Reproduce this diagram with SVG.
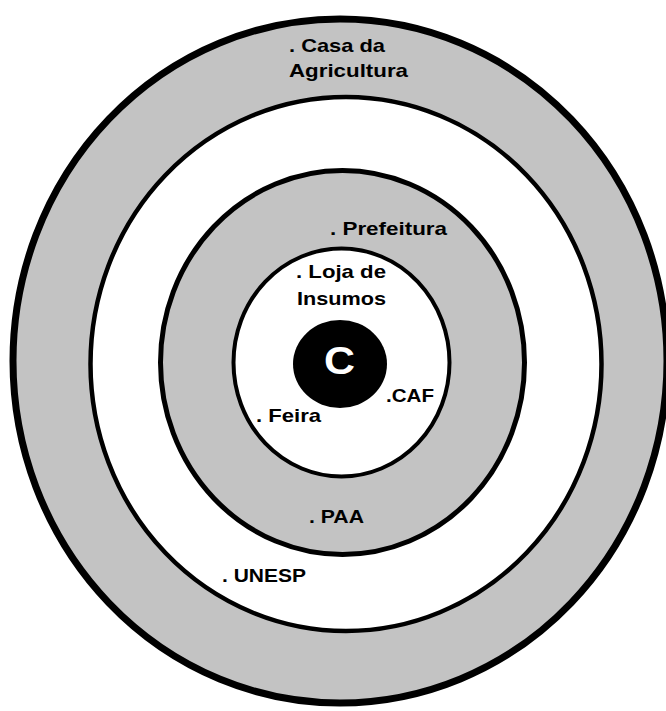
<svg xmlns="http://www.w3.org/2000/svg" width="666" height="711" viewBox="0 0 666 711">
<style>
.ring{stroke:#000}
.gray{fill:#c3c3c3}
.white{fill:#fff}
.lbl{font-family:"Liberation Sans",Arial,sans-serif;font-weight:bold;font-size:19px;fill:#000}
.core{font-family:"Liberation Sans",Arial,sans-serif;font-weight:bold;font-size:38px;fill:#fff}
</style>
<rect width="666" height="711" fill="#fff"/>
<g id="ring-outer">
<ellipse class="ring gray" cx="340" cy="361" rx="327" ry="342" stroke-width="7"/>
<text class="lbl" x="289" y="52" textLength="96" lengthAdjust="spacingAndGlyphs">. Casa da</text>
<text class="lbl" x="289" y="77" textLength="119" lengthAdjust="spacingAndGlyphs">Agricultura</text>
</g>
<g id="ring-second">
<ellipse class="ring white" cx="346" cy="364" rx="255.5" ry="267" stroke-width="4.5"/>
<text class="lbl" x="222" y="582" textLength="84" lengthAdjust="spacingAndGlyphs">. UNESP</text>
</g>
<g id="ring-third">
<ellipse class="ring gray" cx="342.5" cy="362.5" rx="182" ry="192" stroke-width="5"/>
<text class="lbl" x="330" y="235" textLength="117" lengthAdjust="spacingAndGlyphs">. Prefeitura</text>
<text class="lbl" x="309" y="523" textLength="55" lengthAdjust="spacingAndGlyphs">. PAA</text>
</g>
<g id="ring-inner">
<ellipse class="ring white" cx="341.5" cy="362.5" rx="108" ry="114" stroke-width="4"/>
<text class="lbl" x="296" y="278" textLength="90" lengthAdjust="spacingAndGlyphs">. Loja de</text>
<text class="lbl" x="297" y="305" textLength="89" lengthAdjust="spacingAndGlyphs">Insumos</text>
<text class="lbl" x="386" y="402" textLength="48" lengthAdjust="spacingAndGlyphs">.CAF</text>
<text class="lbl" x="256" y="422" textLength="65" lengthAdjust="spacingAndGlyphs">. Feira</text>
</g>
<g id="core">
<ellipse cx="340" cy="364" rx="47" ry="44" fill="#000"/>
<text class="core" x="339.5" y="374" text-anchor="middle" textLength="31" lengthAdjust="spacingAndGlyphs">C</text>
</g>
</svg>
